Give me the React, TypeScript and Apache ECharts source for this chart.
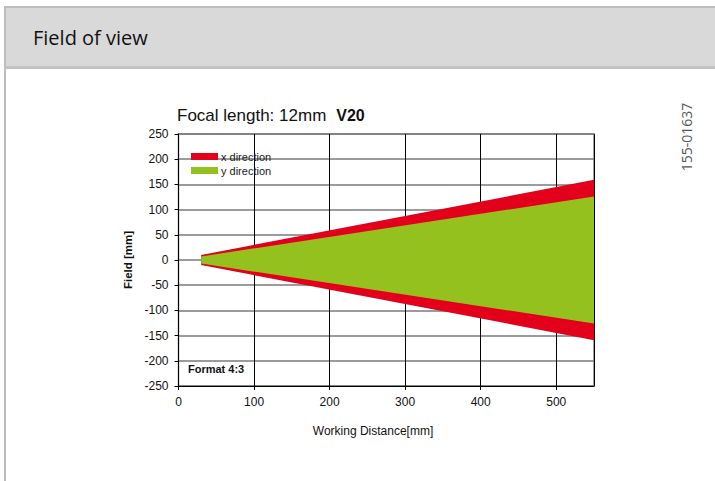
import React, { useEffect, useRef } from "react";
import * as echarts from "echarts";

// Working distance [mm] at the start and end of the field-of-view cone
const distances = [30, 550];
// Half field [mm] in x and y direction at those distances
const xHalfField = [10, 159];
const yHalfField = [7, 126];
const seriesNames = ["x direction", "y direction"];
const seriesColors = ["#e2001a", "#95c11f"];
const xAxisRange = [0, 550, 100];
const yAxisRange = [-250, 250, 50];
const chartTitle = "Focal length: 12mm";
const chartModel = "V20";
const formatLabel = "Format 4:3";
const docNumber = "155-01637";
const headerTitle = "Field of view";
const xAxisName = "Working Distance[mm]";
const yAxisName = "Field [mm]";

const CHART_FONT = "'Liberation Sans', Arial, sans-serif";

function makeBand(half: number[]) {
  return (params: any, api: any) => {
    if (params.dataIndex !== 0) return null;
    const upper = distances.map((d, i) => api.coord([d, half[i]]));
    const lower = distances.map((d, i) => api.coord([d, -half[i]])).reverse();
    return {
      type: "polygon",
      shape: { points: [...upper, ...lower] },
      style: { fill: api.visual("color") },
    };
  };
}

export default function App() {
  const ref = useRef<HTMLDivElement>(null);

  useEffect(() => {
    if (!ref.current) return;
    const chart = echarts.init(ref.current, undefined, { renderer: "svg" });
    const halves = [xHalfField, yHalfField];
    chart.setOption({
      animation: false,
      backgroundColor: "transparent",
      grid: {
        left: 178.5,
        right: 121,
        top: 134,
        bottom: 95,
        show: true,
        borderColor: "#808080",
        borderWidth: 1.5,
      },
      legend: {
        orient: "vertical",
        left: 186,
        top: 146,
        itemWidth: 27,
        itemHeight: 7,
        itemGap: 3,
        icon: "rect",
        data: seriesNames,
        textStyle: { fontFamily: CHART_FONT, fontSize: 11, color: "#1a1a1a", padding: [0, 0, 0, -2] },
      },
      xAxis: {
        type: "value",
        min: xAxisRange[0],
        max: xAxisRange[1],
        interval: xAxisRange[2],
        axisLine: { show: true, onZero: false, lineStyle: { color: "#000", width: 1 } },
        axisTick: { show: true, length: 4, lineStyle: { color: "#000" } },
        axisLabel: {
          fontFamily: CHART_FONT,
          fontSize: 12,
          color: "#111",
          margin: 10,
          showMaxLabel: false,
        },
        splitLine: { show: true, lineStyle: { color: "#000", width: 1 } },
      },
      yAxis: {
        type: "value",
        min: yAxisRange[0],
        max: yAxisRange[1],
        interval: yAxisRange[2],
        name: yAxisName,
        nameLocation: "middle",
        nameGap: 37,
        nameTextStyle: { fontFamily: CHART_FONT, fontSize: 11.5, fontWeight: "bold", color: "#111" },
        axisLine: { show: true, onZero: false, lineStyle: { color: "#000", width: 1 } },
        axisTick: { show: true, length: 4, lineStyle: { color: "#000" } },
        axisLabel: { fontFamily: CHART_FONT, fontSize: 12, color: "#111", margin: 10 },
        splitLine: { show: true, lineStyle: { color: "#7a7a7a", width: 1.5 } },
      },
      series: seriesNames.map((name, k) => ({
        type: "custom",
        name,
        itemStyle: { color: seriesColors[k] },
        renderItem: makeBand(halves[k]),
        data: distances.map((d, i) => [d, halves[k][i], -halves[k][i]]),
        encode: { x: 0, y: [1, 2] },
        z: 2 + k,
      })),
      graphic: [
        {
          type: "text",
          left: 177,
          top: 107,
          style: {
            text: `{n|${chartTitle}}   {b|${chartModel}}`,
            rich: {
              n: { fontFamily: CHART_FONT, fontSize: 17, fill: "#111" },
              b: { fontFamily: CHART_FONT, fontSize: 16, fontWeight: "bold", fill: "#111" },
            },
          },
        },
        {
          type: "text",
          x: 373,
          y: 431,
          style: {
            text: xAxisName,
            fontFamily: CHART_FONT,
            fontSize: 12,
            fill: "#111",
            align: "center",
            verticalAlign: "middle",
          },
        },
        {
          type: "text",
          left: 188,
          top: 363,
          style: {
            text: formatLabel,
            fontFamily: CHART_FONT,
            fontSize: 11,
            fontWeight: "bold",
            fill: "#111",
          },
          z: 10,
        },
        {
          type: "text",
          x: 686,
          y: 137,
          rotation: Math.PI / 2,
          style: {
            text: docNumber,
            fontFamily: "'Open Sans', 'Noto Sans', sans-serif",
            fontSize: 14,
            fill: "#555",
            align: "center",
            verticalAlign: "middle",
          },
        },
      ],
    });
    return () => chart.dispose();
  }, []);

  return (
    <div style={{ position: "fixed", left: 0, top: 0, width: 715, height: 481, background: "#fff", overflow: "hidden" }}>
      <div
        style={{
          position: "absolute",
          left: 4,
          top: 6,
          width: 2,
          height: 475,
          background: "#bdbdbd",
        }}
      />
      <div
        style={{
          position: "absolute",
          left: 4,
          top: 6,
          width: 711,
          height: 63,
          boxSizing: "border-box",
          background: "#d9d9d9",
          borderTop: "2px solid #bdbdbd",
          borderBottom: "3px solid #c2c2c2",
          borderLeft: "2px solid #bdbdbd",
        }}
      >
        <div
          style={{
            position: "absolute",
            left: 27,
            top: 16,
            fontFamily: "'Open Sans', 'Noto Sans', sans-serif",
            fontSize: 20,
            color: "#111",
            lineHeight: "28px",
          }}
        >
          {headerTitle}
        </div>
      </div>
      <div ref={ref} style={{ position: "absolute", left: 0, top: 0, width: 715, height: 481 }} />
    </div>
  );
}
